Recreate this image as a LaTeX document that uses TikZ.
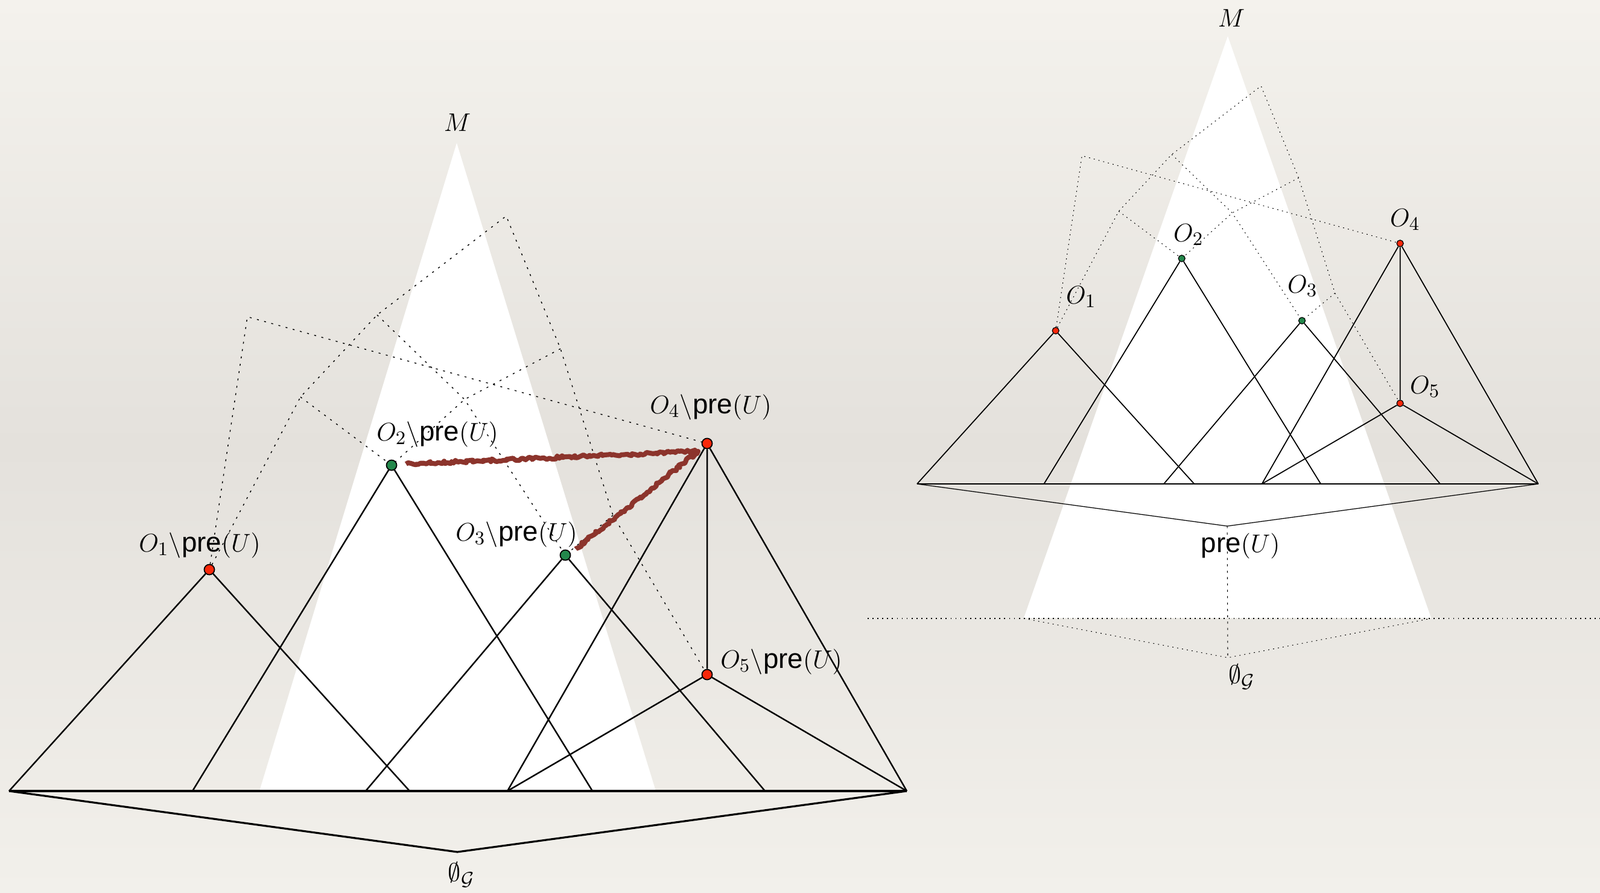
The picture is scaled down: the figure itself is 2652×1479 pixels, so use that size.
\documentclass[tikz,border=0pt]{standalone}
\usepackage{amsmath, amssymb}
\usepackage{fontspec}
\setsansfont{Liberation Sans}
\usepackage{xcolor}
\usepackage{tikz}
\usetikzlibrary{calc, positioning, decorations.pathmorphing}

\definecolor{paperTop}{RGB}{244,242,237}
\definecolor{paperMid}{RGB}{228,225,220}
\definecolor{paperBot}{RGB}{242,240,235}
\definecolor{dotRed}{RGB}{250,40,10}
\definecolor{dotGreen}{RGB}{35,135,75}
\definecolor{brickRed}{RGB}{140,52,44}

\tikzset{
  lab/.style={font=\fontsize{13}{15}\selectfont, inner sep=0pt},
  reddot/.style={circle, draw=black, line width=0.5pt, fill=dotRed, inner sep=0pt, minimum size=0.17cm},
  greendot/.style={circle, draw=black, line width=0.5pt, fill=dotGreen, inner sep=0pt, minimum size=0.17cm},
  smallred/.style={reddot, line width=0.35pt, minimum size=0.11cm},
  smallgreen/.style={greendot, line width=0.35pt, minimum size=0.11cm},
  treeline/.style={line width=0.7pt},
  groundline/.style={line width=1.1pt},
  dotline/.style={line width=0.4pt, dash pattern=on 0.9pt off 2.6pt},
  thindot/.style={line width=0.3pt, dash pattern=on 0.5pt off 1.8pt},
  brush/.style={brickRed, line width=2.3pt, line join=round, decorate,
    decoration={random steps, segment length=1pt, amplitude=0.7pt}}
}

\begin{document}
\begin{tikzpicture}[x=0.01cm, y=-0.01cm]

    % =================================================================
    % 1. NỀN GIẤY
    % =================================================================
    \shade[top color=paperTop, bottom color=paperBot, middle color=paperMid] (0,0) rectangle (2652,1479);
    \useasboundingbox (0,0) rectangle (2652,1479);

    % =================================================================
    % 2. HÌNH TRÁI: NÓN TRẮNG M
    % =================================================================
    \fill[white] (757,237) -- (1087,1311) -- (430,1311) -- cycle;
    \node[lab] (lM) at (758,203) {$M$};

    % Các điểm đáy và điểm gấp của đường chấm
    \coordinate (lL) at (15,1311);
    \coordinate (lR) at (1503,1311);
    \coordinate (lG) at (758,1412);
    \coordinate (lO1b) at (679,1311);
    \coordinate (lO2a) at (319,1311);
    \coordinate (lO2b) at (982,1311);
    \coordinate (lO3a) at (606,1311);
    \coordinate (lO3b) at (1268,1311);
    \coordinate (lO4a) at (841,1311);

    \coordinate (lA) at (410,525);
    \coordinate (lB) at (839,358);
    \coordinate (lC) at (625,522);
    \coordinate (lD) at (498,658);
    \coordinate (lE) at (929,578);
    \coordinate (lH) at (770,662);
    \coordinate (lF) at (1016,854);

    % Các điểm nút
    \node[reddot] (lO1) at (347,944) {};
    \node[greendot] (lO2) at (649,771) {};
    \node[greendot] (lO3) at (937,920) {};
    \node[reddot] (lO4) at (1172,735) {};
    \node[reddot] (lO5) at (1172,1118) {};

    % Đường chấm phía trên
    \draw[dotline] (lO1) -- (lA) -- (lO4);
    \draw[dotline] (lO1) -- (lD) -- (lC) -- (lB) -- (lE) -- (lF) -- (lO5);
    \draw[dotline] (lD) -- (lO2);
    \draw[dotline] (lC) -- (lH) -- (lO3);
    \draw[dotline] (lE) -- (lH) -- (lO2);
    \draw[dotline] (lF) -- (lO3);

    % Các cây tam giác
    \draw[treeline] (lO1) -- (lL) (lO1) -- (lO1b);
    \draw[treeline] (lO2) -- (lO2a) (lO2) -- (lO2b);
    \draw[treeline] (lO3) -- (lO3a) (lO3) -- (lO3b);
    \draw[treeline] (lO4) -- (lO4a) (lO4) -- (lR) (lO4) -- (lO5);
    \draw[treeline] (lO5) -- (lO4a) (lO5) -- (lR);
    \draw[groundline] (lL) -- (lR);
    \draw[treeline, line width=0.9pt] (lL) -- (lG) -- (lR);

    % Nhãn
    \node[lab] (lO1-lab) at (331,904) {$O_1\backslash\mathsf{pre}(U)$};
    \node[lab] (lO2-lab) at (725,720) {$O_2\backslash\mathsf{pre}(U)$};
    \node[lab] (lO3-lab) at (856,886) {$O_3\backslash\mathsf{pre}(U)$};
    \node[lab] (lO4-lab) at (1178,675) {$O_4\backslash\mathsf{pre}(U)$};
    \node[lab] (lO5-lab) at (1295,1097) {$O_5\backslash\mathsf{pre}(U)$};
    \node[lab] (lG-lab) at (765,1450) {$\emptyset_{\mathcal{G}}$};

    % Nét cọ nâu
    \coordinate (lbrushA) at (673,769);
    \coordinate (lbend) at (1157,748);
    \coordinate (lbrushB) at (954,910);
    \draw[brush] (lbrushA) -- (lbend) -- (lbrushB);

    % =================================================================
    % 3. HÌNH PHẢI: NÓN TRẮNG M VÀ pre(U)
    % =================================================================
    \fill[white] (2035,60) -- (2372,1024) -- (1697,1024) -- cycle;
    \node[lab] (rM) at (2041,30) {$M$};

    \begin{scope}[shift={(1509.6,-105.2)}, scale=0.692]
        \coordinate (rL) at (15,1311);
        \coordinate (rR) at (1503,1311);
        \coordinate (rpre) at (758,1412);
        \coordinate (rO1b) at (679,1311);
        \coordinate (rO2a) at (319,1311);
        \coordinate (rO2b) at (982,1311);
        \coordinate (rO3a) at (606,1311);
        \coordinate (rO3b) at (1268,1311);
        \coordinate (rO4a) at (841,1311);

        \coordinate (rA) at (410,525);
        \coordinate (rB) at (839,358);
        \coordinate (rC) at (625,522);
        \coordinate (rD) at (498,658);
        \coordinate (rE) at (929,578);
        \coordinate (rH) at (770,662);
        \coordinate (rF) at (1016,854);

        \node[smallred] (rO1) at (347,944) {};
        \node[smallgreen] (rO2) at (649,771) {};
        \node[smallgreen] (rO3) at (937,920) {};
        \node[smallred] (rO4) at (1172,735) {};
        \node[smallred] (rO5) at (1172,1118) {};
    \end{scope}

    % Đường chấm phía trên
    \draw[thindot] (rO1) -- (rA) -- (rO4);
    \draw[thindot] (rO1) -- (rD) -- (rC) -- (rB) -- (rE) -- (rF) -- (rO5);
    \draw[thindot] (rD) -- (rO2);
    \draw[thindot] (rC) -- (rH) -- (rO3);
    \draw[thindot] (rE) -- (rH) -- (rO2);
    \draw[thindot] (rF) -- (rO3);

    % Các cây tam giác
    \draw[treeline, line width=0.5pt] (rO1) -- (rL) (rO1) -- (rO1b);
    \draw[treeline, line width=0.5pt] (rO2) -- (rO2a) (rO2) -- (rO2b);
    \draw[treeline, line width=0.5pt] (rO3) -- (rO3a) (rO3) -- (rO3b);
    \draw[treeline, line width=0.5pt] (rO4) -- (rO4a) (rO4) -- (rR) (rO4) -- (rO5);
    \draw[treeline, line width=0.5pt] (rO5) -- (rO4a) (rO5) -- (rR);
    \draw[groundline, line width=0.8pt] (rL) -- (rR);
    \draw[line width=0.35pt] (rL) -- (rpre) -- (rR);

    % Phần dưới: đường chấm ngang và điểm rỗng
    \coordinate (rQL) at (1697,1025);
    \coordinate (rQR) at (2372,1025);
    \coordinate (rHL) at (1438,1025);
    \coordinate (rHR) at (2652,1025);
    \coordinate (rG) at (2035,1090);
    \draw[thindot] (rHL) -- (rHR);
    \draw[thindot] (rQL) -- (rG) -- (rQR);
    \draw[line width=0.3pt, dash pattern=on 1pt off 2pt] (rpre) -- (rG);

    % Nhãn
    \node[lab] (rO1-lab) at (1792,492) {$O_1$};
    \node[lab] (rO2-lab) at (1970,389) {$O_2$};
    \node[lab] (rO3-lab) at (2159,474) {$O_3$};
    \node[lab] (rO4-lab) at (2329,364) {$O_4$};
    \node[lab] (rO5-lab) at (2362,641) {$O_5$};
    \node[lab] (rpre-lab) at (2056,905) {$\mathsf{pre}(U)$};
    \node[lab] (rG-lab) at (2058,1122) {$\emptyset_{\mathcal{G}}$};

\end{tikzpicture}
\end{document}
